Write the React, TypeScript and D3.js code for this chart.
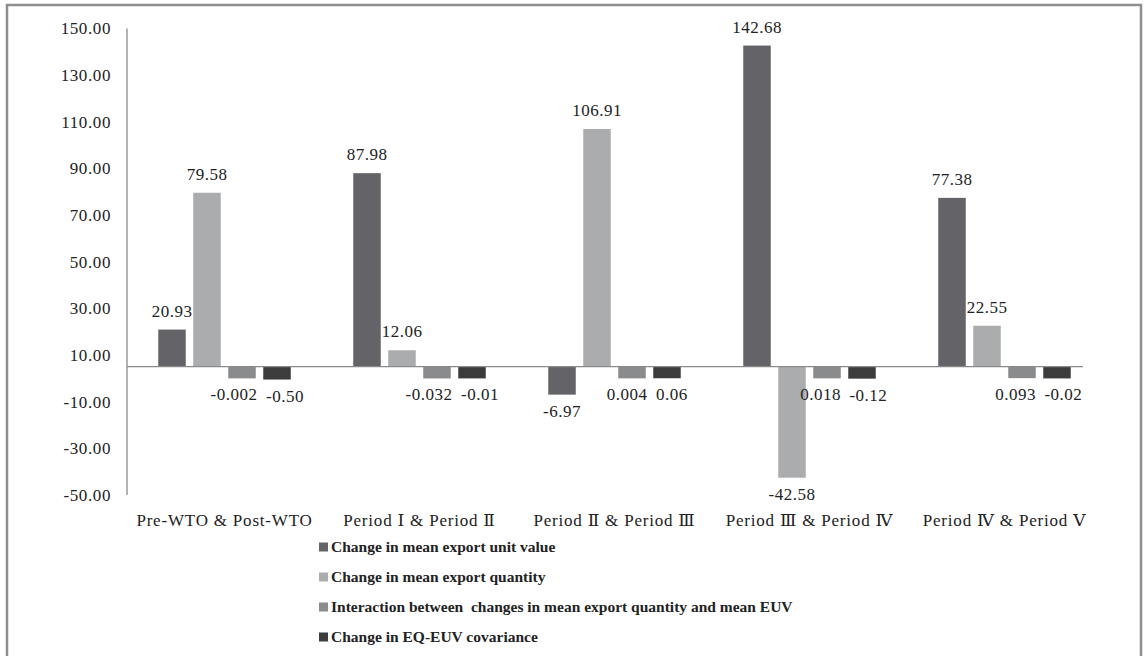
import React from "react";
import * as d3 from "d3";

// Decomposition of export value changes between periods
const categories = [
  "Pre-WTO & Post-WTO",
  "Period Ⅰ & Period Ⅱ",
  "Period Ⅱ & Period Ⅲ",
  "Period Ⅲ & Period Ⅳ",
  "Period Ⅳ & Period Ⅴ",
];

const seriesNames = [
  "Change in mean export unit value",
  "Change in mean export quantity",
  "Interaction between  changes in mean export quantity and mean EUV",
  "Change in EQ-EUV covariance",
];

const unitValueChange = [20.93, 87.98, -6.97, 142.68, 77.38];
const quantityChange = [79.58, 12.06, 106.91, -42.58, 22.55];
const interactionChange = [-0.002, -0.032, 0.004, 0.018, 0.093];
const covarianceChange = [-0.5, -0.01, 0.06, -0.12, -0.02];

const unitValueLabels = ["20.93", "87.98", "-6.97", "142.68", "77.38"];
const quantityLabels = ["79.58", "12.06", "106.91", "-42.58", "22.55"];
const interactionLabels = ["-0.002", "-0.032", "0.004", "0.018", "0.093"];
const covarianceLabels = ["-0.50", "-0.01", "0.06", "-0.12", "-0.02"];

const yTicks = [-50, -30, -10, 10, 30, 50, 70, 90, 110, 130, 150];

// horizontal axis crosses the value axis here
const axisCrossing = 5;

const seriesColors = ["#646468", "#abacae", "#8a8b8d", "#3c3c3d"];

const series = [
  { values: unitValueChange, labels: unitValueLabels },
  { values: quantityChange, labels: quantityLabels },
  { values: interactionChange, labels: interactionLabels },
  { values: covarianceChange, labels: covarianceLabels },
];

const serif = '"Liberation Serif", "DejaVu Serif", serif';
const LABEL_SIZE = 17;
const LABEL_SPACING = 0.5;

// rough advance widths of a Times-like face, in em
function textWidth(s: string) {
  let w = 0;
  for (const ch of s) {
    if (ch === ".") w += 0.25;
    else if (ch === "-") w += 0.333;
    else w += 0.5;
  }
  return w * LABEL_SIZE + (s.length - 1) * LABEL_SPACING;
}

type Label = { x: number; y: number; text: string; below: boolean; w: number };

export default function App() {
  const width = 1144;
  const height = 656;
  const plotLeft = 127;
  const axisRight = 1083;

  const y = d3.scaleLinear().domain([-50, 150]).range([495, 28.5]);
  const x = d3.scaleBand<string>().domain(categories).range([127, 1102]);

  const barW = 27.5;
  const barStep = 35;
  const base = y(axisCrossing);
  const txt = { fontFamily: serif };

  const barCenter = (si: number, ci: number) =>
    (x(categories[ci]) as number) + x.bandwidth() / 2 + (si - 1.5) * barStep;

  // value labels, pushed apart where neighbours in a group collide
  const labels: Label[][] = categories.map((_, ci) =>
    series.map((s, si) => {
      const v = s.values[ci];
      const yv = y(v);
      const below = yv > base;
      return {
        x: barCenter(si, ci),
        y: below ? yv + 22 : yv - 13,
        text: s.labels[ci],
        below,
        w: textWidth(s.labels[ci]),
      };
    })
  );
  const minGap = 9;
  labels.forEach((group) => {
    for (let i = 0; i < group.length - 1; i++) {
      const a = group[i];
      const b = group[i + 1];
      if (a.below !== b.below || Math.abs(a.y - b.y) > 14) continue;
      const gap = b.x - b.w / 2 - (a.x + a.w / 2);
      if (gap < minGap) {
        const shift = (minGap - gap) / 2;
        a.x -= shift;
        b.x += shift;
      }
    }
  });

  return (
    <svg
      width={width}
      height={height}
      style={{ position: "absolute", left: 0, top: 0, background: "#fff", fontFamily: serif }}
    >
      <rect x={0} y={0} width={width} height={height} fill="#fff" />
      {/* outer frame */}
      <path
        d={`M7,${height + 5} V5 H1141 V${height + 5}`}
        fill="none"
        stroke="#8e8e8e"
        strokeWidth={2.5}
      />

      {/* y axis */}
      <line x1={plotLeft} x2={plotLeft} y1={y(150)} y2={y(-50)} stroke="#8a8a8a" strokeWidth={1.3} />
      {yTicks.map((t) => (
        <text
          key={t}
          x={111}
          y={y(t)}
          dy="0.35em"
          textAnchor="end"
          fontSize={17}
          letterSpacing={0.6}
          fill="#222"
          style={txt}
        >
          {t.toFixed(2)}
        </text>
      ))}

      {/* bars */}
      {series.map((s, si) =>
        s.values.map((v, ci) => {
          const yv = y(v);
          return (
            <rect
              key={`b${si}-${ci}`}
              x={barCenter(si, ci) - barW / 2}
              y={Math.min(yv, base)}
              width={barW}
              height={Math.abs(yv - base)}
              fill={seriesColors[si]}
            />
          );
        })
      )}

      {/* x axis line */}
      <line x1={plotLeft} x2={axisRight} y1={base} y2={base} stroke="#8a8a8a" strokeWidth={1.3} />

      {/* value labels */}
      {labels.flatMap((group, ci) =>
        group.map((l, si) => (
          <text
            key={`l${si}-${ci}`}
            x={l.x}
            y={l.y}
            textAnchor="middle"
            fontSize={LABEL_SIZE}
            letterSpacing={LABEL_SPACING}
            fill="#222"
            style={txt}
          >
            {l.text}
          </text>
        ))
      )}

      {/* category labels */}
      {categories.map((c) => (
        <text
          key={c}
          x={(x(c) as number) + x.bandwidth() / 2}
          y={526}
          textAnchor="middle"
          fontSize={17}
          letterSpacing={0.8}
          fill="#222"
          style={txt}
        >
          {c}
        </text>
      ))}

      {/* legend */}
      {seriesNames.map((n, i) => (
        <g key={n} transform={`translate(319, ${547 + i * 30})`}>
          <rect x={0} y={-4.5} width={9} height={9} fill={seriesColors[i]} />
          <text
            x={12}
            y={0}
            dy="0.35em"
            fontSize={15.5}
            fontWeight="bold"
            fill="#222"
            style={{ ...txt, whiteSpace: "pre" }}
          >
            {n}
          </text>
        </g>
      ))}
    </svg>
  );
}
